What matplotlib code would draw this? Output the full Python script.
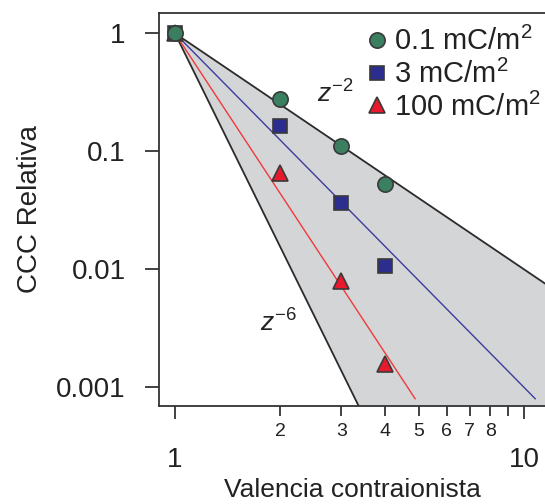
#! /usr/bin/env python3

"""Relative CCC versus counterion valence, log-log"""

import numpy as np
import matplotlib
matplotlib.use('Agg')
import matplotlib.pyplot as plt
from matplotlib import ticker

# Data

valence = [1, 2, 3, 4]
ccc_low = [1.0, 0.276, 0.111, 0.053]       # 0.1 mC/m2
ccc_mid = [1.0, 0.164, 0.0363, 0.0107]     # 3 mC/m2
ccc_high = [1.0, 0.0656, 0.0080, 0.00158]  # 100 mC/m2
series_labels = ['0.1 mC/m$^2$', '3 mC/m$^2$', '100 mC/m$^2$']

band_exponents = [-2, -6]      # grey band limits z^-2 .. z^-6
fit_exponents = [-3, -4.5]     # blue and red guide lines
fit_floor = 8e-4

ytick_vals = [1, 0.1, 0.01, 0.001]
ytick_labels = ['1', '0.1', '0.01', '0.001']
xmajor_vals = [1, 10]
xmajor_labels = ['1', '10']
xminor_vals = [2, 3, 4, 5, 6, 7, 8, 9]
xminor_labels = ['2', '3', '4', '5', '6', '7', '8', '']

plt.rcParams['font.family'] = ['Liberation Sans', 'DejaVu Sans']
plt.rcParams['mathtext.fontset'] = 'custom'
plt.rcParams['mathtext.rm'] = 'Liberation Sans'
plt.rcParams['mathtext.it'] = 'Liberation Sans:italic'
plt.rcParams['mathtext.default'] = 'regular'

txtcol = '#222222'
spinecol = '#333333'

fig = plt.figure(figsize=(5.45, 5.04), dpi=100)
ax = fig.add_axes([0.2917, 0.195, 0.7083, 0.7786])

xlo, xhi = 0.90, 11.49
ax.set_xscale('log')
ax.set_yscale('log')
ax.set_xlim(xlo, xhi)
ax.set_ylim(0.000698, 1.477)

# grey band between z^-2 and z^-6
zz = np.geomspace(1, xhi, 200)
ax.fill_between(zz, zz ** band_exponents[0], zz ** band_exponents[1],
                color='#d4d5d7', lw=0, zorder=1)
for e in band_exponents:
    ax.plot(zz, zz ** e, color='#2b2b2b', lw=1.3, zorder=2)

# guide lines
for e, col in zip(fit_exponents, ('#3c3c9c', '#f03a3a')):
    zend = fit_floor ** (1.0 / e)
    zf = np.geomspace(1, zend, 100)
    ax.plot(zf, zf ** e, color=col, lw=1.0, zorder=3)

# markers, drawn so the circle sits on top at z = 1
h3, = ax.plot(valence, ccc_high, ls='none', marker='^', ms=12, mfc='#e8192c',
              mec='#3a3a3a', mew=1.2, zorder=4)
h2, = ax.plot(valence, ccc_mid, ls='none', marker='s', ms=10, mfc='#2b2d8f',
              mec='#3a3a3a', mew=1.2, zorder=5)
h1, = ax.plot(valence, ccc_low, ls='none', marker='o', ms=11, mfc='#3a8060',
              mec='#3a3a3a', mew=1.2, zorder=6)

leg = ax.legend([h1, h2, h3], series_labels, loc='upper left', frameon=False,
                fontsize=21, handlelength=0.55, handletextpad=0.3,
                labelspacing=0.12, borderaxespad=0, borderpad=0,
                bbox_to_anchor=(0.545, 0.965))
for t in leg.get_texts():
    t.set_color(txtcol)

ax.text(2.55, 0.257, r'$\mathit{z}^{-2}$', fontsize=19, color=txtcol,
        va='baseline', ha='left')
ax.text(1.75, 0.00294, r'$\mathit{z}^{-6}$', fontsize=19, color=txtcol,
        va='baseline', ha='left')

# axes cosmetics
ax.spines['right'].set_visible(False)
for s in ('left', 'bottom', 'top'):
    ax.spines[s].set_color(spinecol)
    ax.spines[s].set_linewidth(1.3)

ax.xaxis.set_major_locator(ticker.FixedLocator(xmajor_vals))
ax.xaxis.set_major_formatter(ticker.FixedFormatter(xmajor_labels))
ax.xaxis.set_minor_locator(ticker.FixedLocator(xminor_vals))
ax.xaxis.set_minor_formatter(ticker.FixedFormatter(xminor_labels))
ax.yaxis.set_major_locator(ticker.FixedLocator(ytick_vals))
ax.yaxis.set_major_formatter(ticker.FixedFormatter(ytick_labels))
ax.yaxis.set_minor_locator(ticker.NullLocator())

ax.tick_params(axis='x', which='major', direction='out', length=9.5, width=1.3,
               color=spinecol, labelsize=20, pad=20, labelcolor=txtcol)
ax.tick_params(axis='x', which='minor', direction='out', length=7.5, width=1.3,
               color=spinecol, labelsize=14, pad=5, labelcolor=txtcol)
ax.tick_params(axis='y', which='major', direction='out', length=10, width=1.3,
               color=spinecol, labelsize=20, pad=14, labelcolor=txtcol)

ax.set_xlabel('Valencia contraionista', fontsize=19, color=txtcol)
ax.xaxis.set_label_coords(0.5, -0.185)
ax.set_ylabel('CCC Relativa', fontsize=20, color=txtcol)
ax.yaxis.set_label_coords(-0.3, 0.5)

fig.savefig('out.png', dpi=100)
plt.close(fig)
